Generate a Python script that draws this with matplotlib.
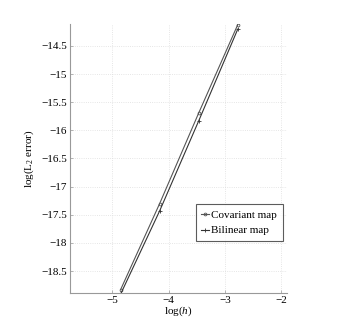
import numpy as np
import matplotlib
matplotlib.use("Agg")
import matplotlib.pyplot as plt

plt.rcParams['font.family'] = ['Liberation Serif', 'DejaVu Serif']
plt.rcParams['mathtext.fontset'] = 'custom'
plt.rcParams['mathtext.rm'] = 'Liberation Serif'
plt.rcParams['mathtext.it'] = 'Liberation Serif:italic'

log_h = [-4.852, -4.159, -3.466, -2.773]
covariant = [-18.83, -17.30, -15.69, -14.12]
bilinear = [-18.91, -17.43, -15.83, -14.20]
xticks = [-5, -4, -3, -2]
yticks = [-18.5, -18, -17.5, -17, -16.5, -16, -15.5, -15, -14.5]

fig = plt.figure(figsize=(3.46, 3.31), dpi=100)
ax = fig.add_axes([0.2023, 0.1148, 0.6272, 0.8127])

ax.plot(log_h, covariant, color='#555555', lw=0.8, marker='o', ms=2,
        mfc='none', mew=0.6, label='Covariant map')
ax.plot(log_h, bilinear, color='#333333', lw=0.8, marker='+', ms=3,
        mew=0.6, label='Bilinear map')

ax.set_xlim(-5.75, -1.9)
ax.set_ylim(-18.89, -14.11)
ax.set_xticks(xticks)
ax.set_yticks(yticks)
ax.set_xticklabels([f'\u2212{abs(t)}' for t in xticks])
ax.set_yticklabels([('\u2212' + f'{abs(t):g}') for t in yticks])
ax.grid(True, color='#dddddd', linestyle=':', lw=0.6)
for s in ['top', 'right']:
    ax.spines[s].set_visible(False)
for s in ['left', 'bottom']:
    ax.spines[s].set_color('#999999')
    ax.spines[s].set_linewidth(0.8)
ax.tick_params(direction='in', length=2, width=0.5, color='#999999',
               labelsize=8, pad=2)
ax.set_xlabel('log($h$)', fontsize=8, labelpad=0)
ax.set_ylabel('log(L$_2$ error)', fontsize=8, labelpad=4)

leg = ax.legend(loc='upper left', bbox_to_anchor=(0.58, 0.33), fontsize=8,
                frameon=True, fancybox=False, handlelength=0.7,
                handletextpad=0.2, borderpad=0.5, labelspacing=0.55,
                borderaxespad=0)
leg.get_frame().set_edgecolor('#333333')
leg.get_frame().set_linewidth(0.8)

fig.savefig('out.png', dpi=100)
